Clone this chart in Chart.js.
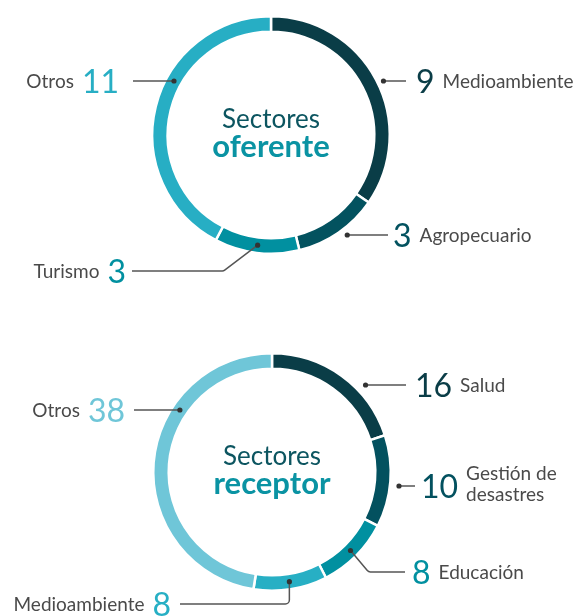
<!DOCTYPE html>
<html>
<head>
<meta charset="utf-8">
<script src="https://cdn.jsdelivr.net/npm/chart.js@4.4.1/dist/chart.umd.min.js"></script>
<style>
  html, body { margin: 0; padding: 0; background: #ffffff; }
  #wrap { position: relative; width: 580px; height: 616px; }
  canvas { position: absolute; left: 0; }
  #c1 { top: 0; }
  #c2 { top: 308px; }
</style>
</head>
<body>
<div id="wrap">
  <canvas id="c1" width="580" height="308"></canvas>
  <canvas id="c2" width="580" height="308"></canvas>
</div>
<script>
// ---- Data ----
const oferenteTitle = ['Sectores', 'oferente'];
const oferenteLabels = [['Medioambiente'], ['Agropecuario'], ['Turismo'], ['Otros']];
const oferenteValues = [9, 3, 3, 11];
const oferenteColors = ['#0a3d47', '#03525f', '#0190a0', '#27aec4'];

const receptorTitle = ['Sectores', 'receptor'];
const receptorLabels = [['Salud'], ['Gestión de', 'desastres'], ['Educación'], ['Medioambiente'], ['Otros']];
const receptorValues = [16, 10, 8, 8, 38];
const receptorColors = ['#0a3d47', '#03515f', '#0190a0', '#27afc4', '#6fc6d8'];

// ---- Layout of callouts (positions only, canvas coordinates) ----
const oferenteCallouts = [
  { side: 'right', kind: 'out', off: 6, y: 81, lineEnd: 406, numX: 416 },
  { side: 'right', kind: 'out', off: 7, y: 235, lineEnd: 388, numX: 393 },
  { side: 'left', kind: 'elbow', y: 271, lineStart: 132, numX: 126, elbowDx: -34 },
  { side: 'left', kind: 'ring', y: 81, lineStart: 133, numX: 119 }
];
const receptorCallouts = [
  { side: 'right', kind: 'out', off: 9, y: 385 - 308, lineEnd: 406, numX: 415 },
  { side: 'right', kind: 'out', off: 9, y: 486 - 308, lineEnd: 415, numX: 421 },
  { side: 'right', kind: 'elbowR', y: 572 - 308, lineEnd: 405, numX: 412, elbowDx: 18 },
  { side: 'left', kind: 'down', y: 604 - 308, lineStart: 180, numX: 171 },
  { side: 'left', kind: 'ring', y: 410 - 308, lineStart: 134, numX: 125 }
];

const NUM_FONT = '400 32px Lato';
const LBL_FONT = '400 19px Lato';
const LBL_COLOR = '#4a4a4a';
const LINE_COLOR = '#555555';

const calloutPlugin = {
  id: 'callouts',
  afterDraw(chart, args, opts) {
    const ctx = chart.ctx;
    const meta = chart.getDatasetMeta(0);
    const ds = chart.data.datasets[0];
    const first = meta.data[0];
    const cx = first.x, cy = first.y;
    const outerR = first.outerRadius, innerR = first.innerRadius;
    const midR = (outerR + innerR) / 2;

    // Center title
    ctx.save();
    ctx.textAlign = 'center';
    ctx.textBaseline = 'alphabetic';
    ctx.fillStyle = '#0c5560';
    ctx.font = '400 26px Lato';
    ctx.fillText(opts.title[0], cx, cy - 7);
    ctx.fillStyle = '#0a93a3';
    ctx.font = '700 31px Lato';
    ctx.fillText(opts.title[1], cx, cy + 22);
    ctx.restore();

    opts.callouts.forEach((co, i) => {
      const arc = meta.data[i];
      const val = ds.data[i];
      const color = ds.backgroundColor[i];
      const labelLines = chart.data.labels[i];
      const mid = arc.tooltipPosition();
      let dot;
      const dy = co.y - cy;
      ctx.save();
      ctx.strokeStyle = LINE_COLOR;
      ctx.lineWidth = 1.5;
      ctx.beginPath();
      if (co.kind === 'out') {
        const r = outerR + co.off;
        dot = { x: cx + Math.sqrt(Math.max(r * r - dy * dy, 0)), y: co.y };
        ctx.moveTo(dot.x, dot.y);
        ctx.lineTo(co.lineEnd, co.y);
      } else if (co.kind === 'ring') {
        dot = { x: cx - Math.sqrt(Math.max(midR * midR - dy * dy, 0)), y: co.y };
        ctx.moveTo(co.lineStart, co.y);
        ctx.lineTo(dot.x, dot.y);
      } else if (co.kind === 'elbow') {
        dot = { x: mid.x, y: mid.y };
        const ex = dot.x + co.elbowDx;
        ctx.moveTo(co.lineStart, co.y);
        ctx.arcTo(ex, co.y, dot.x, dot.y, 4);
        ctx.lineTo(dot.x, dot.y);
      } else if (co.kind === 'elbowR') {
        dot = { x: mid.x, y: mid.y };
        const ex = dot.x + co.elbowDx;
        ctx.moveTo(dot.x, dot.y);
        ctx.arcTo(ex, co.y, co.lineEnd, co.y, 4);
        ctx.lineTo(co.lineEnd, co.y);
      } else if (co.kind === 'down') {
        dot = { x: mid.x, y: mid.y };
        ctx.moveTo(co.lineStart, co.y);
        ctx.arcTo(dot.x, co.y, dot.x, dot.y, 4);
        ctx.lineTo(dot.x, dot.y);
      }
      ctx.stroke();
      ctx.fillStyle = '#333333';
      ctx.beginPath();
      ctx.arc(dot.x, dot.y, 2.6, 0, Math.PI * 2);
      ctx.fill();

      // number
      ctx.textBaseline = 'alphabetic';
      ctx.font = NUM_FONT;
      const numStr = String(val);
      const numW = ctx.measureText(numStr).width;
      const numBase = co.y + 11.5;
      ctx.fillStyle = color;
      let labelX, labelAlign;
      if (co.side === 'right') {
        ctx.textAlign = 'left';
        ctx.fillText(numStr, co.numX, numBase);
        labelX = co.numX + numW + 8;
        labelAlign = 'left';
      } else {
        ctx.textAlign = 'right';
        ctx.fillText(numStr, co.numX, numBase);
        labelX = co.numX - numW - 8;
        labelAlign = 'right';
      }
      // label
      ctx.font = LBL_FONT;
      ctx.fillStyle = LBL_COLOR;
      ctx.textAlign = labelAlign;
      const lh = 21;
      const n = labelLines.length;
      labelLines.forEach((ln, k) => {
        const yy = co.y + (k - (n - 1) / 2) * lh + 7 - (n > 1 ? 3 : 0);
        ctx.fillText(ln, labelX, yy);
      });
      ctx.restore();
    });
  }
};

function makeChart(id, labels, values, colors, padding, title, callouts) {
  return new Chart(document.getElementById(id), {
    type: 'doughnut',
    data: {
      labels: labels,
      datasets: [{
        data: values,
        backgroundColor: colors,
        borderColor: '#ffffff',
        borderWidth: 2.5,
        hoverOffset: 0
      }]
    },
    options: {
      responsive: false,
      devicePixelRatio: 1,
      animation: false,
      cutout: '87%',
      layout: { padding: padding },
      events: [],
      plugins: {
        legend: { display: false },
        tooltip: { enabled: false },
        callouts: { title: title, callouts: callouts }
      }
    },
    plugins: [calloutPlugin]
  });
}

function build() {
  makeChart('c1', oferenteLabels, oferenteValues, oferenteColors,
    { left: 151, right: 189, top: 15, bottom: 53 }, oferenteTitle, oferenteCallouts);
  makeChart('c2', receptorLabels, receptorValues, receptorColors,
    { left: 152, right: 188, top: 44, bottom: 24 }, receptorTitle, receptorCallouts);
}
if (document.fonts && document.fonts.load) {
  Promise.all([
    document.fonts.load('400 32px Lato'),
    document.fonts.load('700 31px Lato'),
    document.fonts.load('400 19px Lato')
  ]).then(build, build);
} else {
  build();
}
</script>
</body>
</html>
